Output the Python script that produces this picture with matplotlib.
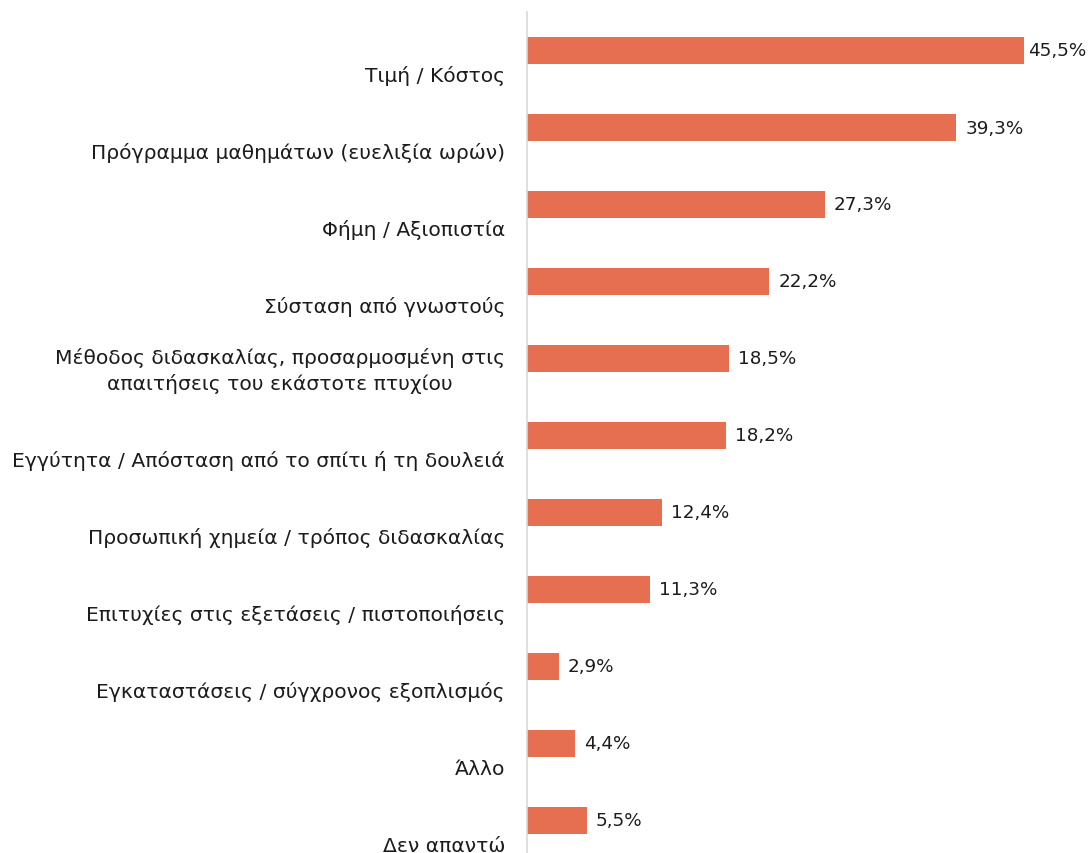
import matplotlib
matplotlib.use("Agg")
import matplotlib.pyplot as plt
import matplotlib.transforms as mtransforms

# Data
categories = [
    "Τιμή / Κόστος",
    "Πρόγραμμα μαθημάτων (ευελιξία ωρών)",
    "Φήμη / Αξιοπιστία",
    "Σύσταση από γνωστούς",
    "Μέθοδος διδασκαλίας, προσαρμοσμένη στις\nαπαιτήσεις του εκάστοτε πτυχίου",
    "Εγγύτητα / Απόσταση από το σπίτι ή τη δουλειά",
    "Προσωπική χημεία / τρόπος διδασκαλίας",
    "Επιτυχίες στις εξετάσεις / πιστοποιήσεις",
    "Εγκαταστάσεις / σύγχρονος εξοπλισμός",
    "Άλλο",
    "Δεν απαντώ",
]
values = [45.5, 39.3, 27.3, 22.2, 18.5, 18.2, 12.4, 11.3, 2.9, 4.4, 5.5]
value_labels = ["45,5%", "39,3%", "27,3%", "22,2%", "18,5%", "18,2%",
                "12,4%", "11,3%", "2,9%", "4,4%", "5,5%"]

bar_color = "#E76F51"
text_color = "#1c1c1c"
plt.rcParams['font.family'] = ['DejaVu Sans']

W, H = 1089, 854
fig = plt.figure(figsize=(W / 100, H / 100), dpi=100)
ax = fig.add_axes([527 / W, -6 / H, 546 / W, 847 / H])

pos = list(range(len(categories)))
ax.barh(pos, values, height=0.35, color=bar_color)
ax.set_xlim(0, 50)
ax.set_ylim(len(categories) - 0.5, -0.5)

# clean look: only the left axis line
for side in ["top", "right", "bottom"]:
    ax.spines[side].set_visible(False)
ax.spines["left"].set_color("#d9d9d9")
ax.spines["left"].set_linewidth(1.2)
ax.set_xticks([])
ax.set_yticks([])

# category labels sit below the bar, right aligned left of the axis
lab_trans = mtransforms.offset_copy(ax.get_yaxis_transform(), fig=fig,
                                    x=-22, y=0, units="dots")
for i, name in enumerate(categories):
    ax.text(0, i + 0.39, name, transform=lab_trans, ha="right",
            va="baseline", multialignment="center", linespacing=1.36,
            fontsize=14.6, color=text_color)

# value labels at the end of each bar
val_trans = mtransforms.offset_copy(ax.transData, fig=fig,
                                    x=9, y=0, units="dots")
for i, (v, lab) in enumerate(zip(values, value_labels)):
    if v > 45:
        t = mtransforms.offset_copy(ax.transData, fig=fig, x=4, y=0, units="dots")
    else:
        t = val_trans
    ax.text(v, i, lab, transform=t, ha="left", va="center",
            fontsize=13.2, color=text_color)

fig.savefig("out.png", dpi=100)
